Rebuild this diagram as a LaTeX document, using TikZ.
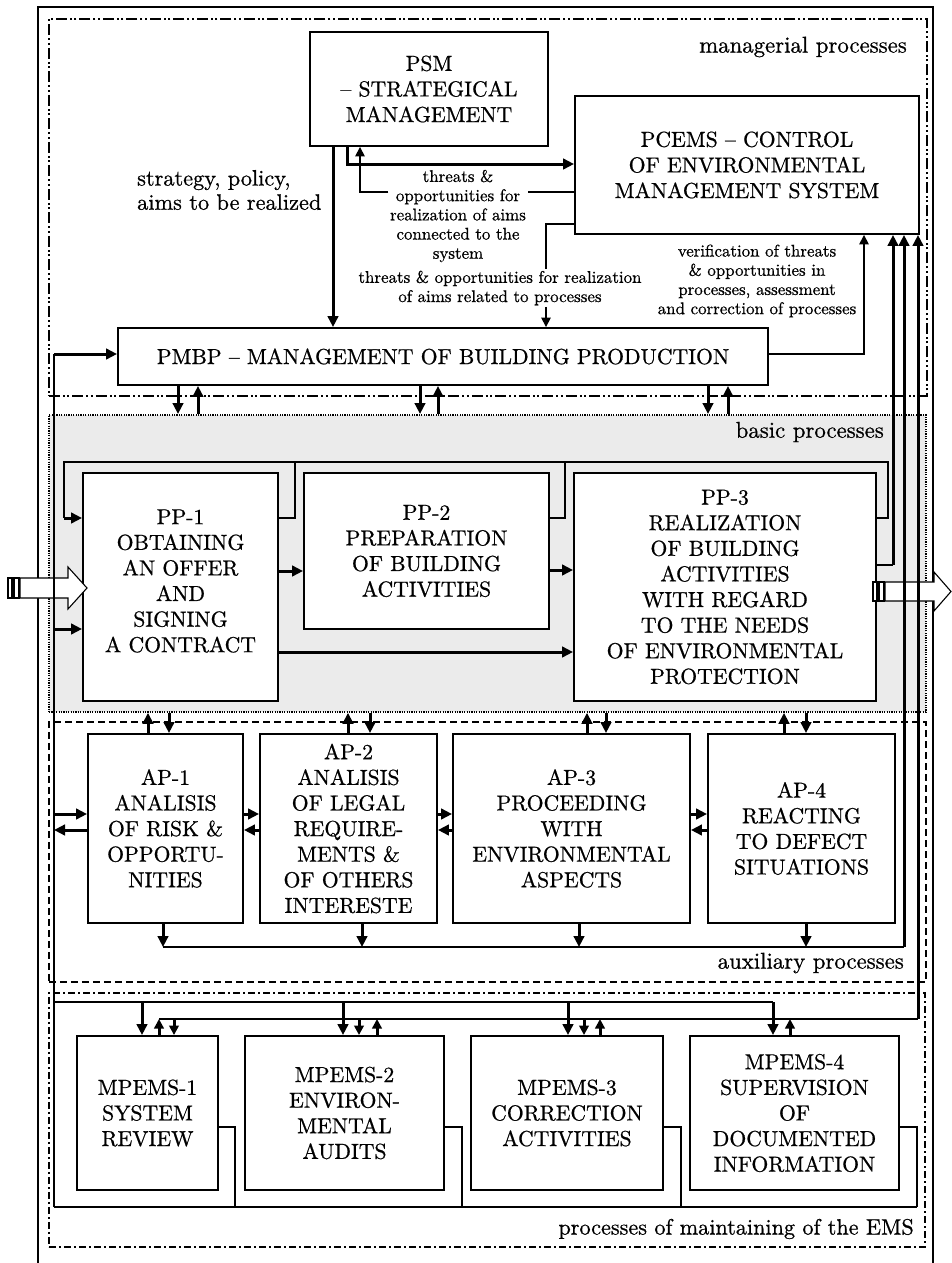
\documentclass[tikz,border=0pt]{standalone}
\usepackage{fontspec}
\setmainfont{lmroman10-regular.otf}[BoldFont=lmroman10-bold.otf, FakeBold=0.7]
\usetikzlibrary{arrows.meta}
\newcommand\myBig{\fontsize{21.7}{25.6}\selectfont}
\newcommand\mySmall{\fontsize{16.9}{19.2}\selectfont}
\newcommand\myLab{\fontsize{22.8}{24.5}\selectfont}
\newcommand\myEms{\fontsize{22.2}{24.5}\selectfont}
\newcommand\myStr{\fontsize{22.3}{24.2}\selectfont}
\begin{document}
\begin{tikzpicture}[x=1pt,y=-1pt,
  box/.style={draw, line width=1.9pt, fill=white, align=center, font=\myBig, inner sep=0pt},
  txt/.style={font=\myBig, align=center, inner sep=0pt},
  lab/.style={font=\myLab, inner sep=0pt},
  sm/.style={font=\mySmall, align=center, inner sep=1.5pt},
  mframe/.style={draw, line width=1.8pt, dash pattern=on 11pt off 3pt on 2pt off 2.5pt on 2pt off 3pt, inner sep=0pt},
  bframe/.style={draw, line width=1.8pt, fill=black!8, dash pattern=on 1.2pt off 1.2pt, inner sep=0pt},
  aframe/.style={draw, line width=1.8pt, dash pattern=on 7pt off 4pt, inner sep=0pt},
  eframe/.style={draw, line width=1.8pt, dash pattern=on 7pt off 3pt on 2pt off 3pt, inner sep=0pt},
  thk/.style={line width=3pt},
  med/.style={line width=2.2pt},
  thn/.style={line width=1.6pt},
  arr/.style={-{Triangle[length=11pt,width=10.5pt]}},
  sarr/.style={-{Triangle[length=9.5pt,width=9.5pt]}},
  hollow/.style={draw, line width=1.1pt, fill=white}]
\useasboundingbox (0,0) rectangle (952,1263);

% outer frame
\draw[line width=1.8pt] (38,1263) -- (38,7) -- (933,7) -- (933,1263);

% group frames
\node[mframe, anchor=north west, minimum width=878pt, minimum height=377pt] (mgr) at (48,18) {};
\node[bframe, anchor=north west, minimum width=877pt, minimum height=297pt] (basic) at (48,414) {};
\node[aframe, anchor=north west, minimum width=877pt, minimum height=260pt] (aux) at (48,721) {};
\node[eframe, anchor=north west, minimum width=876pt, minimum height=254pt] (ems) at (48,992) {};

\node[lab, anchor=east] (lmgr) at (907,47) {managerial processes};
\node[lab, anchor=east] (lbas) at (884,432) {basic processes};
\node[lab, anchor=east] (laux) at (904,963) {auxiliary processes};
\node[font=\myEms, inner sep=0pt, anchor=east] (lems) at (914,1229) {processes of maintaining of the EMS};

% boxes
\node[box, minimum width=238pt, minimum height=114pt] (psm) at (429,89) {PSM\\\textendash\ STRATEGICAL\\MANAGEMENT};
\node[box, minimum width=344pt, minimum height=138pt] (pcems) at (747,165) {PCEMS \textendash\ CONTROL\\OF ENVIRONMENTAL\\MANAGEMENT SYSTEM};
\node[box, minimum width=650pt, minimum height=57pt] (pmbp) at (443,356.5) {PMBP \textendash\ MANAGEMENT OF BUILDING PRODUCTION};

\node[box, minimum width=195pt, minimum height=228pt] (pp1) at (180.5,587) {};
\node[txt] (pp1t) at (180.5,581) {PP-1\\OBTAINING\\AN OFFER\\AND\\SIGNING\\A CONTRACT};
\node[box, minimum width=245pt, minimum height=156pt] (pp2) at (426.5,551) {PP-2\\PREPARATION\\OF BUILDING\\ACTIVITIES};
\node[box, minimum width=302pt, minimum height=228pt] (pp3) at (725,587) {PP-3\\REALIZATION\\OF BUILDING\\ACTIVITIES\\WITH REGARD\\TO THE NEEDS\\OF ENVIRONMENTAL\\PROTECTION};

\node[box, minimum width=155pt, minimum height=189pt] (ap1) at (165.5,828.5) {AP-1\\ANALISIS\\OF RISK \&\\OPPORTU-\\NITIES};
\node[box, minimum width=177pt, minimum height=189pt] (ap2) at (348.5,828.5) {AP-2\\ANALISIS\\OF LEGAL\\REQUIRE-\\MENTS \&\\OF OTHERS\\INTERESTE};
\node[box, minimum width=237pt, minimum height=189pt] (ap3) at (571.5,828.5) {AP-3\\PROCEEDING\\WITH\\ENVIRONMENTAL\\ASPECTS};
\node[box, minimum width=187pt, minimum height=189pt] (ap4) at (801.5,828.5) {AP-4\\REACTING\\TO DEFECT\\SITUATIONS};

\node[box, minimum width=141pt, minimum height=154pt] (mp1) at (147.5,1113) {MPEMS-1\\SYSTEM\\REVIEW};
\node[box, minimum width=199pt, minimum height=154pt] (mp2) at (344.5,1113) {MPEMS-2\\ENVIRON-\\MENTAL\\AUDITS};
\node[box, minimum width=192pt, minimum height=154pt] (mp3) at (567,1113) {MPEMS-3\\CORRECTION\\ACTIVITIES};
\node[box, minimum width=209pt, minimum height=154pt] (mp4) at (794.5,1113) {MPEMS-4\\SUPERVISION\\OF\\DOCUMENTED\\INFORMATION};

% free texts
\node[font=\myStr, inner sep=0pt, align=left, anchor=west] (lstr) at (137,190) {strategy, policy,\\aims to be realized};
\node[sm] (tA) at (458,216) {threats \&\\opportunities for\\realization of aims\\connected to the\\system};
\node[sm] (tB) at (500,288) {threats \& opportunities for realization\\of aims related to processes};
\node[sm] (tC) at (757,281) {verification of threats\\\& opportunities in\\processes, assessment\\and correction of processes};

% hollow input / output arrows (under the lines)
\draw[hollow] (20,578) -- (68,578) -- (68,567) -- (87,588) -- (68,609) -- (68,598) -- (20,598) -- cycle;
\draw[hollow] (8,578) rectangle (12,598);
\draw[hollow] (14,578) rectangle (19,598);
\draw[hollow] (885,582) -- (934,582) -- (934,572) -- (951,591.5) -- (934,611) -- (934,601) -- (885,601) -- cycle;
\draw[hollow] (873,582) rectangle (877,601);
\draw[hollow] (879,582) rectangle (884,601);

% managerial connectors
\draw[thk,arr] (333,0|-psm.south) -- (333,0|-pmbp.north);
\draw[thk,arr] (347,0|-psm.south) |- (pcems.west|-0,164);
\draw[thn] (pcems.west|-0,192) -- (tA.east|-0,192);
\draw[thn,sarr] (tA.west|-0,192) -- (360,192) -- (360,0|-psm.south);
\draw[thn] (pcems.west|-0,224) -- (546,224) -- (546,0|-tB.north);
\draw[thn,sarr] (546,0|-tB.south) -- (546,0|-pmbp.north);
\draw[thn,sarr] (pmbp.east|-0,354) -- (864,354) -- (864,0|-pcems.south);

% feedback to PCEMS
\coordinate (pp3out) at (893,565);
\coordinate (apbus) at (904,947);
\coordinate (mpbus) at (918,1019);
\draw[thn] (pp3.east|-0,565) -- (pp3out);
\draw[thk,arr] (pp3out) -- (pp3out|-pcems.south);
\draw[thn] (163,947) -- (apbus);
\draw[thk,arr] (apbus) -- (apbus|-pcems.south);
\draw[thn] (159,1019) -- (mpbus);
\draw[thk,arr] (mpbus) -- (mpbus|-pcems.south);

% PMBP <-> basic processes
\foreach \x in {178,420,708} \draw[thk,arr] (\x,0|-pmbp.south) -- (\x,0|-basic.north);
\foreach \x in {198,438,728} \draw[thk,arr] (\x,0|-basic.north) -- (\x,0|-pmbp.south);

% left bus
\draw[med] (54,1207) -- (54,354);
\draw[thk,arr] (54,354) -- (pmbp.west|-0,354);
\draw[thk,arr] (54,629) -- (pp1.west|-0,629);
\draw[thk,arr] (54,814) -- (ap1.west|-0,814);
\draw[thk,arr] (ap1.west|-0,830) -- (54,830);
\draw[thn] (54,1002) -- (773,1002);
\foreach \x/\n in {142/mp1,343/mp2,568/mp3,773/mp4} \draw[thk,arr] (\x,1002) -- (\x,0|-\n.north);
\foreach \x/\n in {174/mp1,359/mp2,584/mp3} \draw[thk,sarr] (\x,1019) -- (\x,0|-\n.north);
\foreach \x/\n in {159/mp1,377/mp2,600/mp3,790/mp4} \draw[thk,sarr] (\x,0|-\n.north) -- (\x,1019);

% bottom feedback bus
\draw[thn] (54,1207) -- (917,1207);
\foreach \n/\x in {mp1/235,mp2/462,mp3/681,mp4/917} \draw[thn] (\n.east|-0,1127) -- (\x,1127) -- (\x,1207);

% PP loops
\draw[thn] (64,518) -- (64,462) -- (888,462) -- (888,518) -- (pp3.east|-0,518);
\draw[thk,arr] (64,518) -- (pp1.west|-0,518);
\draw[thn] (pp1.east|-0,518) -- (295,518) -- (295,462);
\draw[thn] (pp2.east|-0,518) -- (565,518) -- (565,462);
\draw[thk,arr] (pp1.east|-0,571) -- (pp2.west|-0,571);
\draw[thk,arr] (pp2.east|-0,570) -- (pp3.west|-0,570);
\draw[thk,arr] (pp1.east|-0,652) -- (pp3.west|-0,652);

% basic <-> AP
\foreach \x/\n in {148/ap1,348/ap2,587/ap3,784/ap4} \draw[thk,arr] (\x,0|-\n.north) -- (\x,0|-basic.south);
\foreach \x/\n in {169/ap1,370/ap2,606/ap3,806/ap4} \draw[thk,arr] (\x,0|-basic.south) -- (\x,0|-\n.north);

% AP <-> AP
\foreach \a/\b in {ap1/ap2,ap2/ap3,ap3/ap4} {
  \draw[thk,arr] (\a.east|-0,814) -- (\b.west|-0,814);
  \draw[thk,arr] (\b.west|-0,830) -- (\a.east|-0,830);
}
% AP -> bus
\foreach \x/\n in {163/ap1,362/ap2,579/ap3,806/ap4} \draw[thk,arr] (\x,0|-\n.south) -- (\x,947);
\end{tikzpicture}
\end{document}
